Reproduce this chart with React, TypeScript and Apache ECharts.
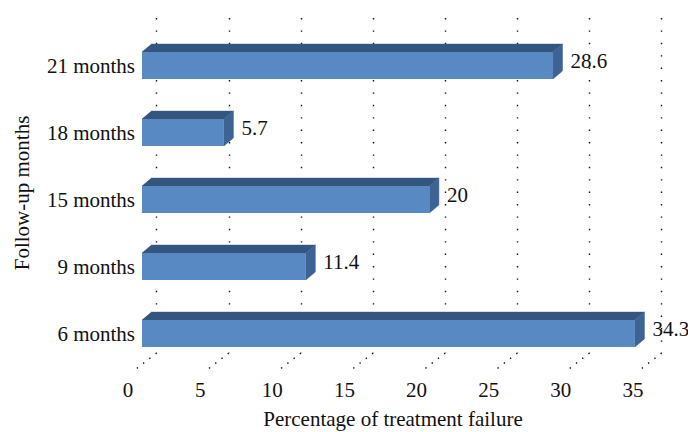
import React, { useEffect, useRef } from "react";
import * as echarts from "echarts";

const categories = ["6 months", "9 months", "15 months", "18 months", "21 months"];
const failureRates = [34.3, 11.4, 20, 5.7, 28.6];
const tickValues = [0, 5, 10, 15, 20, 25, 30, 35];
const xTitle = "Percentage of treatment failure";
const yTitle = "Follow-up months";

const FONT = "'Liberation Serif', 'Times New Roman', serif";
const FS = 21;
const DX = 9.5;
const DY = -8;

export default function App() {
  const ref = useRef<HTMLDivElement>(null);
  useEffect(() => {
    if (!ref.current) return;
    const chart = echarts.init(ref.current, null, { renderer: "svg" });
    const xBase = { type: "value", min: 0, max: 35, interval: 5 };
    chart.setOption({
      animation: false,
      grid: [
        { left: 142, top: 32, width: 503, height: 335 },
        { left: 156.7, top: 18, width: 505, height: 335 },
        { left: 128, top: 18, width: 505, height: 358 },
      ],
      xAxis: [
        { ...xBase, gridIndex: 0, show: false },
        {
          ...xBase,
          gridIndex: 1,
          axisLine: { show: false },
          axisTick: { show: false },
          axisLabel: { show: false },
          splitLine: { show: true, lineStyle: { color: "#111", width: 1.4, type: [1.4, 11] } },
        },
        {
          ...xBase,
          gridIndex: 2,
          axisLine: { show: false },
          axisTick: { show: false },
          splitLine: { show: false },
          axisLabel: { show: true, margin: 3, fontFamily: FONT, fontSize: FS, color: "#111" },
        },
      ],
      yAxis: [
        {
          type: "category",
          gridIndex: 0,
          data: categories,
          axisLine: { show: false },
          axisTick: { show: false },
          axisLabel: { margin: 7, fontFamily: FONT, fontSize: FS, color: "#111" },
        },
        { type: "value", gridIndex: 1, min: 0, max: 1, show: false },
        { type: "value", gridIndex: 2, min: 0, max: 1, show: false },
      ],
      graphic: [
        {
          type: "text",
          x: 393,
          y: 419,
          style: {
            text: xTitle,
            fontFamily: FONT,
            fontSize: FS,
            fill: "#111",
            textAlign: "center",
            textVerticalAlign: "middle",
          },
        },
        {
          type: "text",
          x: 22,
          y: 193,
          rotation: Math.PI / 2,
          style: {
            text: yTitle,
            fontFamily: FONT,
            fontSize: FS,
            fill: "#111",
            textAlign: "center",
            textVerticalAlign: "middle",
          },
        },
      ],
      series: [
        {
          type: "custom",
          xAxisIndex: 1,
          yAxisIndex: 1,
          data: tickValues.map((v) => [v, 0]),
          encode: { x: 0, y: 1 },
          renderItem: (params: any, api: any) => {
            const p = api.coord([api.value(0), 0]);
            return {
              type: "line",
              shape: { x1: p[0], y1: p[1], x2: p[0] - 22, y2: p[1] + 17 },
              style: { stroke: "#111", lineWidth: 1.4, lineDash: [1.4, 6.5] },
            };
          },
        },
        {
          type: "custom",
          xAxisIndex: 0,
          yAxisIndex: 0,
          data: failureRates.map((v, i) => [v, i]),
          encode: { x: 0, y: 1 },
          renderItem: (params: any, api: any) => {
            const v = api.value(0);
            const c = api.value(1);
            const s = api.coord([0, c]);
            const e = api.coord([v, c]);
            const h = api.size([0, 1])[1] * 0.4;
            const x0 = s[0];
            const x1 = e[0];
            const yT = s[1] - h / 2;
            const yB = s[1] + h / 2;
            return {
              type: "group",
              children: [
                {
                  type: "polygon",
                  shape: { points: [[x0, yT], [x0 + DX, yT + DY], [x1 + DX, yT + DY], [x1, yT]] },
                  style: { fill: "#34557f", stroke: "#34557f", lineWidth: 0.5 },
                },
                {
                  type: "polygon",
                  shape: { points: [[x1, yT], [x1 + DX, yT + DY], [x1 + DX, yB + DY], [x1, yB]] },
                  style: { fill: "#3d6394", stroke: "#3d6394", lineWidth: 0.5 },
                },
                {
                  type: "rect",
                  shape: { x: x0, y: yT, width: x1 - x0, height: h },
                  style: { fill: "#5889c3" },
                },
                {
                  type: "text",
                  x: x1 + DX + 8,
                  y: s[1] - 5,
                  style: {
                    text: String(v),
                    fontFamily: FONT,
                    fontSize: FS,
                    fill: "#111",
                    textAlign: "left",
                    textVerticalAlign: "middle",
                  },
                },
              ],
            };
          },
        },
      ],
    });
    return () => chart.dispose();
  }, []);
  return (
    <div
      ref={ref}
      style={{ position: "fixed", left: 0, top: 0, width: 688, height: 432, background: "#fff" }}
    />
  );
}
